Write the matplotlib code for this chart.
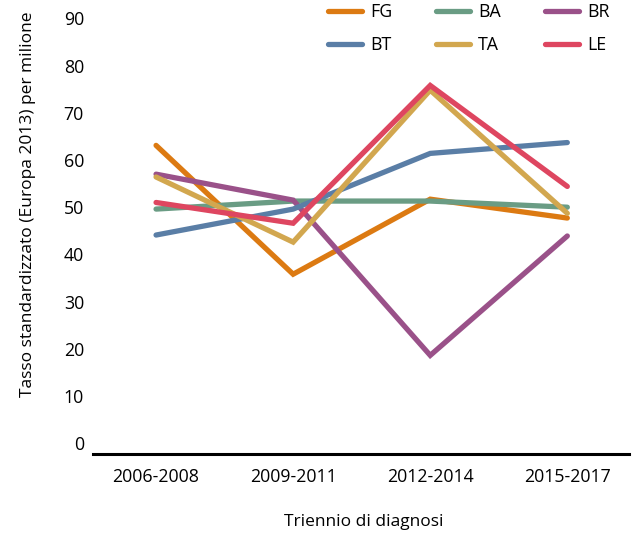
import matplotlib.pyplot as plt

plt.rcParams['font.family'] = ['Open Sans', 'DejaVu Sans']

periods = ["2006-2008", "2009-2011", "2012-2014", "2015-2017"]
FG = [63.1, 35.8, 51.7, 47.7]
BA = [49.6, 51.3, 51.3, 50.0]
BR = [57.0, 51.5, 18.6, 43.9]
BT = [44.1, 49.6, 61.4, 63.7]
TA = [56.4, 42.6, 74.8, 48.7]
LE = [51.0, 46.6, 75.8, 54.4]

series = [("FG", FG, "#dc7a12"), ("BA", BA, "#6a9c84"), ("BR", BR, "#9a5189"),
          ("BT", BT, "#5a7ea6"), ("TA", TA, "#d2a74f"), ("LE", LE, "#de4660")]

fig = plt.figure(figsize=(6.32, 5.38), dpi=100)
ax = fig.add_axes([93/632, 84/538, 536/632, 445/538])

ax.set_xlim(-0.46, 3.45)
ax.set_xticks(range(len(periods)))
ax.set_xticklabels(periods, fontsize=12.8)
ax.set_ylim(-2.3, 92)
ax.set_yticks(range(0, 100, 10))
ax.tick_params(axis='y', length=0, pad=6.5, labelsize=12.8)
ax.tick_params(axis='x', length=0, pad=10)
for s in ['top', 'right', 'left']:
    ax.spines[s].set_visible(False)
ax.spines['bottom'].set_linewidth(2.2)

handles = {}
for name, vals, col in series:
    h, = ax.plot(range(len(vals)), vals, color=col, lw=3.8, label=name,
                 clip_on=False, solid_capstyle='round', solid_joinstyle='miter')
    handles[name] = h

# legend: 3 columns, rows FG/BA/BR and BT/TA/LE
order = ["FG", "BT", "BA", "TA", "BR", "LE"]
fig.legend([handles[n] for n in order], order, ncol=3, loc='upper left',
           bbox_to_anchor=(328/632, 1 - 3/538), frameon=False, fontsize=12.8,
           handlelength=1.9, handletextpad=0.45, columnspacing=2.5,
           labelspacing=0.85, borderaxespad=0, borderpad=0)

fig.text(28/632, 1 - 204/538, "Tasso standardizzato (Europa 2013) per milione",
         rotation=90, ha='center', va='center', fontsize=12.5)
fig.text(364/632, 1 - 522/538, "Triennio di diagnosi", ha='center', va='center',
         fontsize=12.5)

fig.savefig("out.png", dpi=100)
